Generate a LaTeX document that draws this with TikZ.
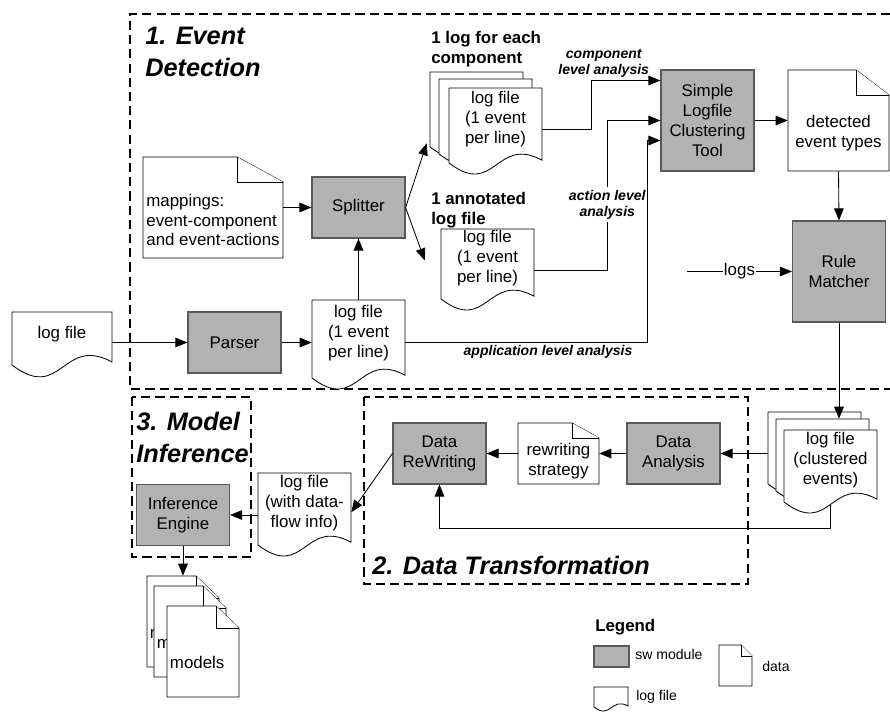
\documentclass[tikz,border=0pt]{standalone}
\usepackage{fontspec}
\setmainfont{Liberation Sans}
\usetikzlibrary{positioning,arrows.meta,calc}

\newcommand{\mytext}{\fontsize{12}{14.2}\selectfont}
\newcommand{\mylabel}{\fontsize{10}{11.4}\selectfont\bfseries\itshape}
\newcommand{\mytitle}{\fontsize{18}{22.5}\selectfont\bfseries\itshape}

\tikzset{
  module/.style={draw=black!65, line width=0.8pt, fill=gray!60, minimum width=2.325cm, minimum height=1.525cm, align=center, font=\mytext, inner sep=1pt},
  doc/.style={draw=black, line width=0.6pt, fill=white},
  doctext/.style={inner sep=2pt, align=center, font=\mytext},
  flow/.style={line width=0.6pt, -{Triangle[length=0.3cm,width=0.24cm]}},
  lbl/.style={font=\mylabel, align=center, inner sep=2pt},
  stage/.style={line width=1.1pt, dash pattern=on 6.5pt off 3.6pt},
  stagetitle/.style={font=\mytitle, align=left, anchor=north west, inner sep=0pt},
  note/.style={font=\fontsize{12}{14.2}\selectfont\bfseries, align=left, anchor=north west, inner sep=0pt},
  legendtext/.style={font=\fontsize{10}{12}\selectfont, anchor=west, inner sep=0pt}
}

% log file: [opts]{name}{x}{y}{w}{h}{text}, x/y = top left corner
\newcommand{\logdoc}[7][]{%
  \draw[doc] (#3,#4) -- ({#3+#5},#4) -- ({#3+#5},{#4+#6-0.03*#5})
    .. controls ({#3+0.5*#5},{#4+#6-0.30*#5}) and ({#3+0.5*#5},{#4+#6+0.38*#5}) .. (#3,{#4+#6}) -- cycle;
  \node[doctext, minimum width={#5*0.025cm}, minimum height={0.84*#6*0.025cm}, #1] (#2) at ({#3+0.5*#5},{#4+0.42*#6}) {#7};
}
% data: [opts]{name}{x}{y}{w}{h}{fold w}{fold h}{text}
\newcommand{\datadoc}[9][]{%
  \draw[doc] (#3,#4) -- ({#3+#5-#7},#4) -- ({#3+#5},{#4+#8}) -- ({#3+#5},{#4+#6}) -- (#3,{#4+#6}) -- cycle;
  \draw[doc] ({#3+#5-#7},#4) -- ({#3+#5-#7},{#4+#8}) -- ({#3+#5},{#4+#8});
  \node[doctext, minimum width={#5*0.025cm}, minimum height={(#6-#8)*0.025cm}, #1] (#2) at ({#3+0.5*#5},{#4+0.5*#6+0.5*#8}) {#9};
}

\begin{document}
\begin{tikzpicture}[x=0.025cm, y=-0.025cm]
\useasboundingbox (0,0) rectangle (890,715);

% stages
\draw[stage] (890,14) -- (130,14) -- (130,389) -- (890,389);
\draw[stage] (364,397) rectangle (748,584);
\draw[stage] (132,397) rectangle (251,557);
\node[stagetitle] (t1) at (145,27) {1. Event\\Detection};
\node[stagetitle] (t2) at (372,556) {2. Data Transformation};
\node[stagetitle] (t3) at (136,412) {3. Model\\Inference};

% 1. event detection
\logdoc{lfin}{12}{312}{100}{53}{log file}
\node[module] (parser) at (234.5,342.5) {Parser};
\logdoc{lfev}{312}{300}{93}{78}{log file\\(1 event\\per line)}
\node[module] (split) at (358.5,207.5) {Splitter};
\datadoc[align=left, inner sep=1pt]{map}{143}{157}{140}{101}{46}{25}{mappings:\\event-component\\and event-actions}

\node[note] (n1) at (431,31) {1 log for each\\component};
\logdoc{cpa}{430}{72}{93}{75}{}
\logdoc{cpb}{439}{79}{93}{75}{}
\logdoc{cpc}{449}{88}{93}{75}{log file\\(1 event\\per line)}
\node[note] (n2) at (431,192) {1 annotated\\log file};
\logdoc{ann}{441}{229}{93}{70}{log file\\(1 event\\per line)}

\node[module, minimum height=2.525cm] (simple) at (707.5,120.5) {Simple\\Logfile\\Clustering\\Tool};
\datadoc{det}{788}{70}{101}{101}{33}{25}{detected\\event types}
\node[module, minimum height=2.525cm] (rule) at (839,271.5) {Rule\\Matcher};
\coordinate (logsin) at (687,271.5);

% 2. data transformation
\logdoc{cla}{768}{412}{93}{72}{}
\logdoc{clb}{776}{419}{93}{72}{}
\logdoc{clc}{784}{430}{93}{72}{log file\\(clustered\\events)}
\node[module] (dana) at (673.5,453.5) {Data\\Analysis};
\datadoc{rws}{518}{423}{81}{61}{27}{15}{rewriting\\strategy}
\node[module] (drw) at (439.5,453.5) {Data\\ReWriting};

% 3. model inference
\logdoc{lfflow}{258}{473}{93}{72}{log file\\(with data-\\flow info)}
\node[module] (infer) at (183,515) {Inference\\Engine};
\datadoc[align=left, text width=1.65cm]{mda}{147}{576}{72}{91}{23}{22}{models}
\datadoc[align=left, text width=1.65cm]{mdb}{154}{586}{72}{91}{23}{22}{models}
\datadoc[align=left, text width=1.65cm]{mdc}{167}{606}{72}{91}{23}{22}{models}

% connectors
\draw[flow] (lfin.east |- parser) -- (parser);
\draw[flow] (parser) -- (parser -| lfev.west);
\draw[flow] (lfev.north) -- (split.south);
\draw[flow] (map.east |- split) -- (split);
\draw[flow] (split.east) -- ($(cpa.south west)+(-3,8)$);
\draw[flow] (split.east) -- ($(ann.west)+(-16,2)$);
\draw[flow] ($(cpc.east)+(0,10)$) -- ++(49,0) |- node[lbl, above, pos=0.59] (lcomp) {component\\level analysis} ($(simple.west)+(0,-40)$);
\draw[flow] ($(ann.east)+(0,12)$) -- ++(73,0) |- node[lbl, fill=white, pos=0.22] (lact) {action level\\analysis} (simple.west);
\draw[flow] (parser -| lfev.east) -- node[lbl, below, pos=0.59] (lapp) {application level analysis} ++(242,0) |- ($(simple.west)+(0,20)$);
\draw[flow] (simple) -- (simple -| det.west);
\draw[flow] (det.south) -- (rule.north);
\draw[flow] (logsin) -- node[fill=white, inner sep=1pt, font=\mytext] (llogs) {logs} (rule.west);
\draw[flow] (rule.south) -- (rule.south |- clb.north);
\draw[flow] (cla.west |- dana) -- (dana);
\draw[flow] (dana) -- (dana -| rws.east);
\draw[flow] (rws.west |- drw) -- (drw);
\draw[flow] ($(clc.south)+(0,14)$) |- ($(drw.south)+(0,44)$) -- (drw.south);
\draw[flow] (drw.west) -- ($(lfflow.east)+(0,9)$);
\draw[flow] (infer -| lfflow.west) -- (infer);
\draw[flow] (infer.south) -- ($(infer.south |- mda.north)+(0,-22)$);

% legend
\node[note] (leg) at (595,619) {Legend};
\node[module, minimum width=0.875cm, minimum height=0.525cm] (legmod) at (611.5,656.5) {};
\node[legendtext] (legmodt) at (635,654) {sw module};
\datadoc{legdata}{719}{645}{33}{41}{11}{11}{}
\node[legendtext] (legdatat) at (762,666) {data};
\logdoc{leglog}{594}{687}{34}{20}{}
\node[legendtext] (leglogt) at (636,697) {log file};
\end{tikzpicture}
\end{document}
